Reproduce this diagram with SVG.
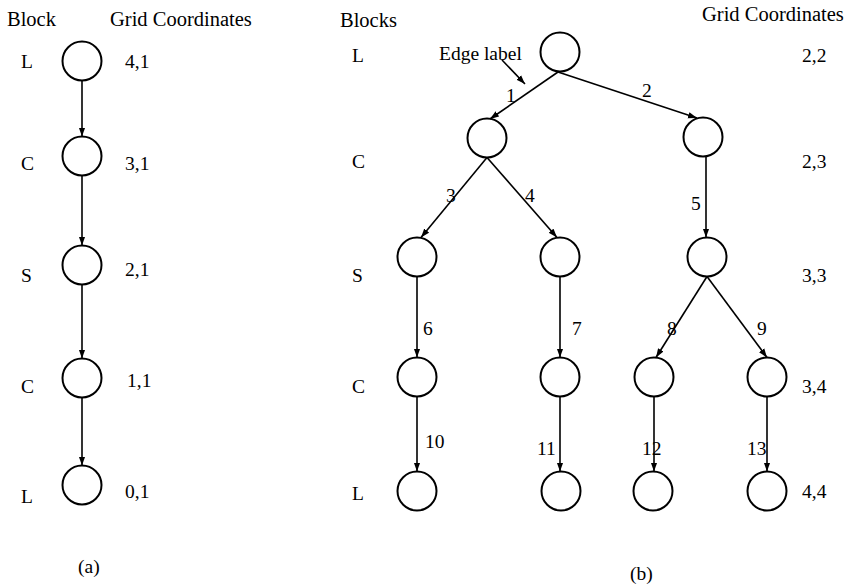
<svg xmlns="http://www.w3.org/2000/svg" width="856" height="588" viewBox="0 0 856 588">
  <defs>
    <marker id="arrow" markerUnits="userSpaceOnUse" markerWidth="10" markerHeight="8" refX="9" refY="4" orient="auto">
      <path d="M0,0.8 L9,4 L0,7.2 Z" fill="#000"/>
    </marker>
    <style>
      text { font-family: "Liberation Serif", "Times New Roman", serif; font-size: 19.5px; fill: #000; }
      .head { font-size: 20.5px; }
      .node { fill: #fff; stroke: #000; stroke-width: 2; }
      .edge { stroke: #000; stroke-width: 1.6; fill: none; marker-end: url(#arrow); }
    </style>
  </defs>
  <rect width="856" height="588" fill="#fff"/>

  <!-- (a) linear chain -->
  <g id="chain-labels">
    <text class="head" x="7" y="26">Block</text>
    <text class="head" x="110" y="26">Grid Coordinates</text>
    <text x="21" y="68">L</text>
    <text x="21" y="170">C</text>
    <text x="21" y="282">S</text>
    <text x="21" y="393">C</text>
    <text x="21" y="503">L</text>
    <text x="125" y="68">4,1</text>
    <text x="125" y="170">3,1</text>
    <text x="125" y="276">2,1</text>
    <text x="127" y="387">1,1</text>
    <text x="125" y="498">0,1</text>
    <text x="78" y="573">(a)</text>
  </g>
  <g id="a1"><circle class="node" cx="82" cy="61" r="19.5"/></g>
  <g id="a2"><circle class="node" cx="82" cy="156" r="19.5"/></g>
  <g id="a3"><circle class="node" cx="82" cy="265" r="19.5"/></g>
  <g id="a4"><circle class="node" cx="82" cy="378" r="19.5"/></g>
  <g id="a5"><circle class="node" cx="82" cy="485" r="19.5"/></g>

  <!-- (b) tree -->
  <g id="tree-labels">
    <text class="head" x="340" y="27">Blocks</text>
    <text class="head" x="702" y="21">Grid Coordinates</text>
    <text x="352" y="62">L</text>
    <text x="352" y="168">C</text>
    <text x="352" y="282">S</text>
    <text x="352" y="393">C</text>
    <text x="352" y="500">L</text>
    <text x="802" y="62">2,2</text>
    <text x="802" y="168">2,3</text>
    <text x="802" y="282">3,3</text>
    <text x="802" y="393">3,4</text>
    <text x="802" y="498">4,4</text>
    <text x="439" y="60">Edge label</text>
    <text x="630" y="580">(b)</text>
  </g>
  <g id="root"><circle class="node" cx="560" cy="52" r="19.5"/></g>
  <g id="n1"><circle class="node" cx="487" cy="138" r="19.5"/></g>
  <g id="n2"><circle class="node" cx="703" cy="137" r="19.5"/></g>
  <g id="s1"><circle class="node" cx="417" cy="257" r="19.5"/></g>
  <g id="s2"><circle class="node" cx="560" cy="257" r="19.5"/></g>
  <g id="s3"><circle class="node" cx="707" cy="257" r="19.5"/></g>
  <g id="c1"><circle class="node" cx="417" cy="377" r="19.5"/></g>
  <g id="c2"><circle class="node" cx="560" cy="377" r="19.5"/></g>
  <g id="c3"><circle class="node" cx="654" cy="377" r="19.5"/></g>
  <g id="c4"><circle class="node" cx="767" cy="377" r="19.5"/></g>
  <g id="l1"><circle class="node" cx="417" cy="491" r="19.5"/></g>
  <g id="l2"><circle class="node" cx="561" cy="491" r="19.5"/></g>
  <g id="l3"><circle class="node" cx="653" cy="491" r="19.5"/></g>
  <g id="l4"><circle class="node" cx="767" cy="491" r="19.5"/></g>

  <g id="connectors">
    <!-- chain (a) -->
    <line class="edge" x1="82" y1="80.5" x2="82" y2="136.5"/>
    <line class="edge" x1="82" y1="175.5" x2="82" y2="245.5"/>
    <line class="edge" x1="82" y1="284.5" x2="82" y2="358.5"/>
    <line class="edge" x1="82" y1="397.5" x2="82" y2="465.5"/>
    <!-- tree (b) -->
    <line class="edge" x1="502" y1="60" x2="525" y2="84"/>
    <line class="edge" x1="558" y1="72" x2="490" y2="119"/>
    <line class="edge" x1="558" y1="72" x2="697" y2="118"/>
    <line class="edge" x1="487" y1="157.5" x2="421" y2="237.5"/>
    <line class="edge" x1="487" y1="157.5" x2="557" y2="237.5"/>
    <line class="edge" x1="706" y1="156.5" x2="706" y2="237.5"/>
    <line class="edge" x1="417" y1="276.5" x2="417" y2="357.5"/>
    <line class="edge" x1="560" y1="276.5" x2="560" y2="357.5"/>
    <line class="edge" x1="707" y1="276.5" x2="656" y2="357.5"/>
    <line class="edge" x1="707" y1="276.5" x2="767" y2="357.5"/>
    <line class="edge" x1="417" y1="396.5" x2="417" y2="471.5"/>
    <line class="edge" x1="560" y1="396.5" x2="560" y2="471.5"/>
    <line class="edge" x1="654" y1="396.5" x2="654" y2="471.5"/>
    <line class="edge" x1="767" y1="396.5" x2="767" y2="471.5"/>
    <!-- edge numbers -->
    <text x="506" y="102">1</text>
    <text x="642" y="97">2</text>
    <text x="446" y="202">3</text>
    <text x="525" y="202">4</text>
    <text x="691" y="210">5</text>
    <text x="423" y="335">6</text>
    <text x="572" y="335">7</text>
    <text x="667" y="335">8</text>
    <text x="757" y="335">9</text>
    <text x="425" y="448">10</text>
    <text x="537" y="455">11</text>
    <text x="642" y="455">12</text>
    <text x="747" y="455">13</text>
  </g>
</svg>
